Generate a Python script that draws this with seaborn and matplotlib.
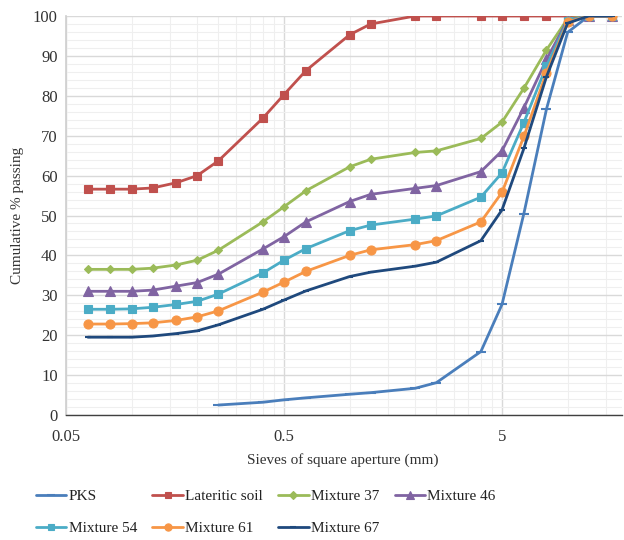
import matplotlib
matplotlib.use("Agg")
import matplotlib.pyplot as plt
import matplotlib.ticker as mticker
import seaborn as sns
import numpy as np

# sieve sizes (mm)
sieves = [0.063, 0.08, 0.1, 0.125, 0.16, 0.2, 0.25, 0.4, 0.5, 0.63, 1, 1.25,
          2, 2.5, 4, 5, 6.3, 8, 10, 12.5, 16]
pks_sieves = sieves[6:]

pks = [2.5, 3.2, 3.8, 4.3, 5.2, 5.6, 6.7, 8.1, 15.9, 27.7, 50.5, 76.7, 95.9, 100, 100]
lateritic = [56.6, 56.6, 56.6, 56.9, 58.2, 60.0, 63.7, 74.4, 80.3, 86.3, 95.3, 98.0,
             100, 100, 100, 100, 100, 100, 100, 100, 100]
mix37 = [36.5, 36.5, 36.5, 36.8, 37.6, 38.8, 41.3, 48.4, 52.2, 56.2, 62.2, 64.1,
         65.8, 66.2, 69.3, 73.4, 81.9, 91.5, 99.3, 100, 100]
mix46 = [31.0, 31.0, 31.0, 31.3, 32.3, 33.2, 35.3, 41.6, 44.7, 48.4, 53.5, 55.3,
         56.8, 57.5, 61.0, 66.2, 77.0, 89.1, 99.0, 100, 100]
mix54 = [26.5, 26.5, 26.6, 27.0, 27.7, 28.5, 30.3, 35.6, 38.8, 41.7, 46.2, 47.6,
         49.1, 49.9, 54.6, 60.7, 73.3, 87.5, 98.8, 100, 100]
mix61 = [22.8, 22.8, 22.9, 23.1, 23.7, 24.6, 26.1, 30.8, 33.3, 36.0, 40.0, 41.4,
         42.7, 43.7, 48.4, 55.8, 69.8, 85.8, 98.5, 100, 100]
mix67 = [19.5, 19.5, 19.5, 19.8, 20.4, 21.1, 22.6, 26.5, 28.8, 31.1, 34.7, 35.8,
         37.3, 38.3, 43.7, 51.4, 66.8, 84.8, 98.2, 100, 100]

series = [
    ("PKS", pks_sieves, pks, "#4A7EBB", "_", 7),
    ("Lateritic soil", sieves, lateritic, "#C0504D", "s", 6),
    ("Mixture 37", sieves, mix37, "#9BBB59", "D", 4.5),
    ("Mixture 46", sieves, mix46, "#8064A2", "^", 6.5),
    ("Mixture 54", sieves, mix54, "#4BACC6", "s", 6),
    ("Mixture 61", sieves, mix61, "#F79646", "o", 6.5),
    ("Mixture 67", sieves, mix67, "#1F497D", "_", 5),
]

sns.set_theme(style="white")
plt.rcParams["font.family"] = ["Liberation Serif", "DejaVu Serif"]

fig = plt.figure(figsize=(6.24, 5.4), dpi=100)
ax = fig.add_axes([66 / 624, 125 / 540, 556 / 624, 399 / 540])

for name, xs, ys, col, mk, ms in series:
    sns.lineplot(x=xs, y=ys, ax=ax, color=col, marker=mk, markersize=ms,
                 markeredgecolor=col, markeredgewidth=1.5 if mk == "_" else 0.8,
                 linewidth=2, label=name, sort=False, errorbar=None)

ax.set_xscale("log")
ax.set_xlim(0.05, 0.05 * 10 ** (556 / 218))
ax.set_ylim(0, 100)

major_x = [0.05, 0.5, 5]
minor_x = [d * k for d in (0.05, 0.5, 5) for k in range(2, 10)]
ax.xaxis.set_major_locator(mticker.FixedLocator(major_x))
ax.xaxis.set_major_formatter(mticker.FixedFormatter(["0.05", "0.5", "5"]))
ax.xaxis.set_minor_locator(mticker.FixedLocator(minor_x))
ax.xaxis.set_minor_formatter(mticker.NullFormatter())
ax.yaxis.set_major_locator(mticker.MultipleLocator(10))
ax.yaxis.set_minor_locator(mticker.MultipleLocator(2))

ax.grid(which="major", color="#D9D9D9", linewidth=1)
ax.grid(which="minor", color="#EFEFEF", linewidth=0.8)
ax.set_axisbelow(True)
ax.tick_params(which="both", length=0, labelsize=12, colors="#333333")
ax.tick_params(axis="x", pad=10)
ax.tick_params(axis="y", pad=6)

for s in ["top", "right"]:
    ax.spines[s].set_visible(False)
ax.spines["left"].set_color("#D0D0D0")
ax.spines["bottom"].set_color("#404040")
ax.spines["bottom"].set_linewidth(1)

ax.set_xlabel("Sieves of square aperture (mm)", fontsize=11, color="#333333")
ax.set_ylabel("Cumulative % passing", fontsize=11, color="#333333")
ax.xaxis.set_label_coords((343 - 66) / 556, -0.095)
ax.yaxis.set_label_coords(-0.075, 0.5)

# legend: row-wise order in 4 columns
handles, labels = ax.get_legend_handles_labels()
ax.get_legend().remove()
order = [0, 4, 1, 5, 2, 6, 3]
fig.legend([handles[i] for i in order], [labels[i] for i in order],
           ncol=4, loc="upper left", bbox_to_anchor=(22 / 624, 1 - 476 / 540),
           frameon=False, fontsize=11, handlelength=2.0, handletextpad=0.15,
           columnspacing=1.0, labelspacing=1.2, labelcolor="#222222",
           markerscale=0.8)

fig.savefig("out.png", dpi=100)
